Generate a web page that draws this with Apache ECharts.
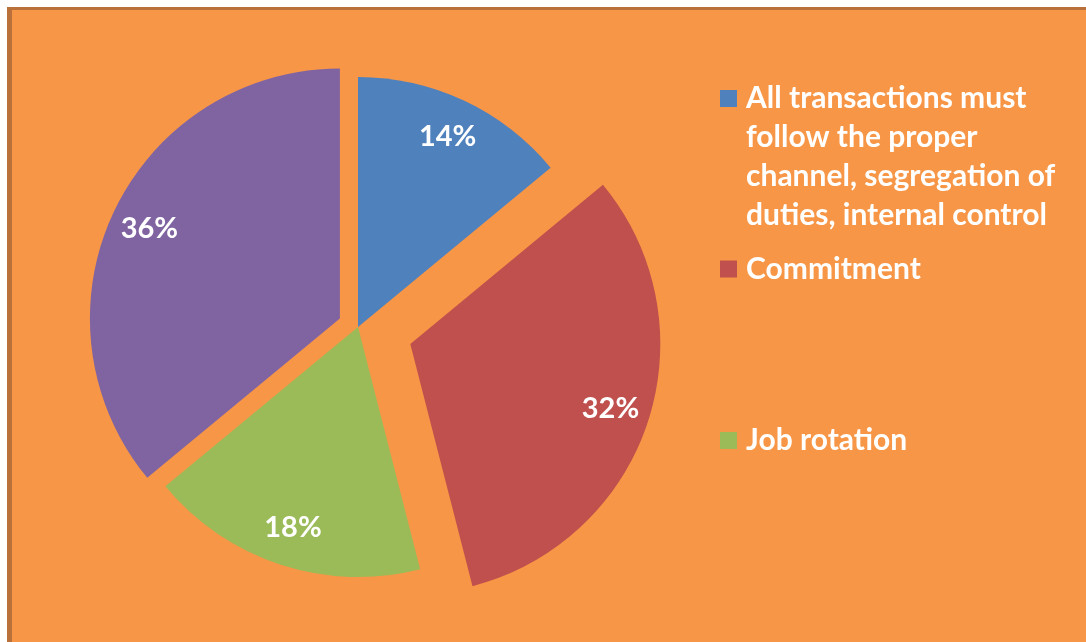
<!DOCTYPE html>
<html>
<head>
<meta charset="utf-8">
<script src="https://cdn.jsdelivr.net/npm/echarts@6/dist/echarts.min.js"></script>
<style>
  html, body { margin: 0; padding: 0; background: #ffffff; overflow: hidden; }
  #frame {
    position: absolute; left: 7px; top: 7px; width: 1100px; height: 700px;
    background: #F79646; border-left: 5px solid #B9703A; border-top: 3px solid #B9703A;
    box-sizing: border-box;
  }
  #chart { position: absolute; left: 0; top: 0; width: 1086px; height: 642px; }
</style>
</head>
<body>
<div id="frame"></div>
<div id="chart"></div>
<script>
// Survey shares per fraud-control measure (percent)
const categories = [
  'All transactions must follow the proper channel, segregation of duties, internal control',
  'Commitment',
  'Job rotation',
  'Other'
];
const values = [14, 32, 18, 36];
const legendNames = categories.slice(0, 3);
const legendLabels = [
  'All transactions must\nfollow the proper\nchannel, segregation of\nduties, internal control',
  'Commitment',
  'Job rotation'
];
const colors = ['#4F81BD', '#C0504D', '#9BBB59', '#8064A2'];

// Layout and styling
const FONT = 'Lato';
const CENTER = [358, 327];
const RADIUS = 250;
const LABEL_RING = [165, 250];   // inside labels sit at the middle of this ring
const LINE_H = 39;
// slices are pulled out of the pie by different distances
const explodeGroups = [
  { offset: 0, members: [0, 2] },
  { offset: 55, members: [1] },
  { offset: 20, members: [3] }
];
const legendTops = [-38, 249.5, 421];

function pieSeries(group, withLabels) {
  return {
    type: 'pie',
    silent: true,
    animation: false,
    center: CENTER,
    radius: withLabels ? LABEL_RING : [0, RADIUS],
    startAngle: 90,
    clockwise: true,
    selectedMode: 'multiple',
    selectedOffset: group.offset,
    avoidLabelOverlap: false,
    itemStyle: { borderWidth: 0 },
    emphasis: { disabled: true },
    select: { itemStyle: { borderWidth: 0 } },
    labelLine: { show: false },
    label: {
      show: withLabels,
      position: 'inside',
      formatter: '{c}%',
      color: '#ffffff',
      fontFamily: FONT,
      fontWeight: 'bold',
      fontSize: 29
    },
    data: categories.map(function (name, i) {
      const mine = group.members.indexOf(i) >= 0;
      return {
        name: name,
        value: values[i],
        selected: mine && group.offset > 0,
        itemStyle: { color: (mine && !withLabels) ? colors[i] : 'rgba(0,0,0,0)' },
        label: { show: withLabels && mine }
      };
    })
  };
}

const series = [];
explodeGroups.forEach(function (g) { series.push(pieSeries(g, false)); });
explodeGroups.forEach(function (g) { series.push(pieSeries(g, true)); });

// The legend text is centred on its marker; leading empty lines keep the
// marker level with the first line of a wrapped entry.
const legends = legendNames.map(function (name, i) {
  const lines = legendLabels[i].split('\n').length;
  const lead = new Array(lines).join('\n');
  return {
    orient: 'vertical',
    left: 720,
    top: legendTops[i],
    padding: 0,
    selectedMode: false,
    icon: 'rect',
    itemWidth: 17,
    itemHeight: 17,
    data: [{ name: name, itemStyle: { color: colors[i] } }],
    formatter: function () { return lead + legendLabels[i]; },
    textStyle: {
      color: '#ffffff',
      fontFamily: FONT,
      fontWeight: 'bold',
      fontSize: 30,
      lineHeight: LINE_H,
      padding: [0, 0, 0, 4]
    }
  };
});

const chart = echarts.init(document.getElementById('chart'), null, { renderer: 'canvas' });
chart.setOption({
  backgroundColor: 'transparent',
  animation: false,
  legend: legends,
  series: series
});
</script>
</body>
</html>
